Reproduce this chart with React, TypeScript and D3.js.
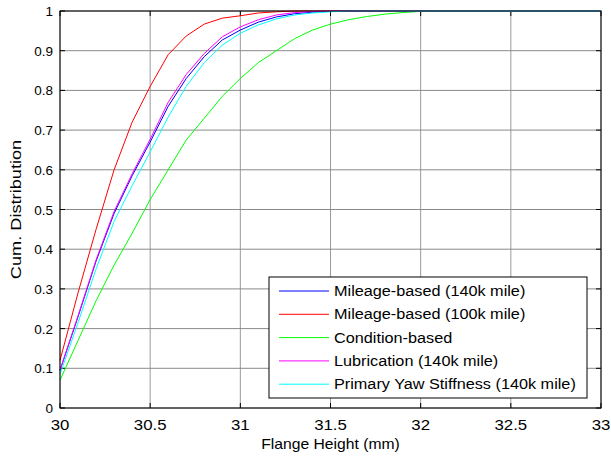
import React from "react";
import * as d3 from "d3";

const xs = [30, 30.1, 30.2, 30.3, 30.4, 30.5, 30.6, 30.7, 30.8, 30.9, 31, 31.1, 31.2, 31.3, 31.4, 31.5, 31.6, 31.7, 31.8, 31.9, 32, 32.1, 32.5, 33];

const mileage140 = [0.095, 0.23, 0.37, 0.49, 0.585, 0.67, 0.76, 0.83, 0.885, 0.927, 0.952, 0.972, 0.985, 0.993, 0.997, 0.999, 1, 1, 1, 1, 1, 1, 1, 1];
const mileage100 = [0.12, 0.29, 0.45, 0.6, 0.72, 0.81, 0.89, 0.937, 0.967, 0.982, 0.988, 0.995, 0.998, 1, 1, 1, 1, 1, 1, 1, 1, 1, 1, 1];
const condition = [0.07, 0.17, 0.27, 0.36, 0.44, 0.525, 0.6, 0.675, 0.73, 0.785, 0.83, 0.87, 0.9, 0.93, 0.952, 0.967, 0.978, 0.986, 0.992, 0.996, 0.999, 1, 1, 1];
const lubrication = [0.095, 0.232, 0.373, 0.495, 0.59, 0.677, 0.77, 0.84, 0.893, 0.935, 0.96, 0.978, 0.99, 0.996, 0.999, 1, 1, 1, 1, 1, 1, 1, 1, 1];
const yawStiffness = [0.085, 0.215, 0.35, 0.47, 0.56, 0.645, 0.733, 0.81, 0.87, 0.914, 0.944, 0.965, 0.98, 0.99, 0.995, 0.998, 1, 1, 1, 1, 1, 1, 1, 1];

const seriesNames = [
  "Mileage-based (140k mile)",
  "Mileage-based (100k mile)",
  "Condition-based",
  "Lubrication (140k mile)",
  "Primary Yaw Stiffness (140k mile)",
];
const seriesValues = [mileage140, mileage100, condition, lubrication, yawStiffness];
const seriesColors = ["#0000ff", "#ff0000", "#00ff00", "#ff00ff", "#00ffff"];

const xTicks = [30, 30.5, 31, 31.5, 32, 32.5, 33];
const yTicks = [0, 0.1, 0.2, 0.3, 0.4, 0.5, 0.6, 0.7, 0.8, 0.9, 1];

const W = 611;
const H = 459;
const L = 60, R = 601, T = 11, B = 408;

export default function App() {
  const x = d3.scaleLinear().domain([30, 33]).range([L, R]);
  const y = d3.scaleLinear().domain([0, 1]).range([B, T]);
  const line = d3
    .line<[number, number]>()
    .x((d) => x(d[0]))
    .y((d) => y(d[1]));
  const font = "Liberation Sans, Arial, sans-serif";
  const tick = 5;
  const legX = 269, legY = 277, legW = 318, legH = 121, rowH = 23.3;

  return (
    <svg
      width={W}
      height={H}
      style={{ position: "absolute", left: 0, top: 0, background: "#fff" }}
      fontFamily={font}
    >
      <rect x={0} y={0} width={W} height={H} fill="#fff" />
      {/* grid */}
      {xTicks.map((t) => (
        <line key={"gx" + t} x1={x(t)} x2={x(t)} y1={T} y2={B} stroke="#9a9a9a" strokeWidth={1} />
      ))}
      {yTicks.map((t) => (
        <line key={"gy" + t} x1={L} x2={R} y1={y(t)} y2={y(t)} stroke="#8a8a8a" strokeWidth={1} />
      ))}
      {/* tick marks */}
      {xTicks.map((t) => (
        <g key={"tx" + t}>
          <line x1={x(t)} x2={x(t)} y1={B} y2={B - tick} stroke="#000" />
          <line x1={x(t)} x2={x(t)} y1={T} y2={T + tick} stroke="#000" />
        </g>
      ))}
      {yTicks.map((t) => (
        <g key={"ty" + t}>
          <line x1={L} x2={L + tick} y1={y(t)} y2={y(t)} stroke="#000" />
          <line x1={R} x2={R - tick} y1={y(t)} y2={y(t)} stroke="#000" />
        </g>
      ))}
      {/* series */}
      {seriesValues.map((vals, i) => (
        <path
          key={"s" + i}
          d={line(xs.map((xv, j) => [xv, vals[j]] as [number, number])) || ""}
          fill="none"
          stroke={seriesColors[i]}
          strokeWidth={1}
        />
      ))}
      {/* axes box */}
      <rect x={L} y={T} width={R - L} height={B - T} fill="none" stroke="#000" strokeWidth={1} />
      {/* tick labels */}
      {xTicks.map((t) => (
        <text
          key={"lx" + t}
          transform={`translate(${x(t)}, 430) scale(1.2, 1)`}
          textAnchor="middle"
          fontSize={14}
          fill="#000"
        >
          {d3.format("~g")(t)}
        </text>
      ))}
      {yTicks.map((t) => (
        <text key={"ly" + t} x={53} y={y(t) + 5} textAnchor="end" fontSize={13.5} fill="#000">
          {d3.format("~g")(t)}
        </text>
      ))}
      <text
        transform={`translate(${(L + R) / 2}, 449) scale(1.12, 1)`}
        textAnchor="middle"
        fontSize={14}
        fill="#000"
      >
        Flange Height (mm)
      </text>
      <text
        transform={`translate(21, ${(T + B) / 2}) rotate(-90) scale(1.3, 1)`}
        textAnchor="middle"
        fontSize={14}
        fill="#000"
      >
        Cum. Distribution
      </text>
      {/* legend */}
      <rect x={legX} y={legY} width={legW} height={legH} fill="#fff" stroke="#000" strokeWidth={1} />
      {seriesNames.map((name, i) => {
        const cy = legY + 14 + i * rowH;
        return (
          <g key={"lg" + i}>
            <line x1={legX + 10} x2={legX + 60} y1={cy} y2={cy} stroke={seriesColors[i]} strokeWidth={1} />
            <text
              transform={`translate(${legX + 65}, ${cy + 5}) scale(1.16, 1)`}
              fontSize={14}
              fill="#000"
            >
              {name}
            </text>
          </g>
        );
      })}
    </svg>
  );
}
